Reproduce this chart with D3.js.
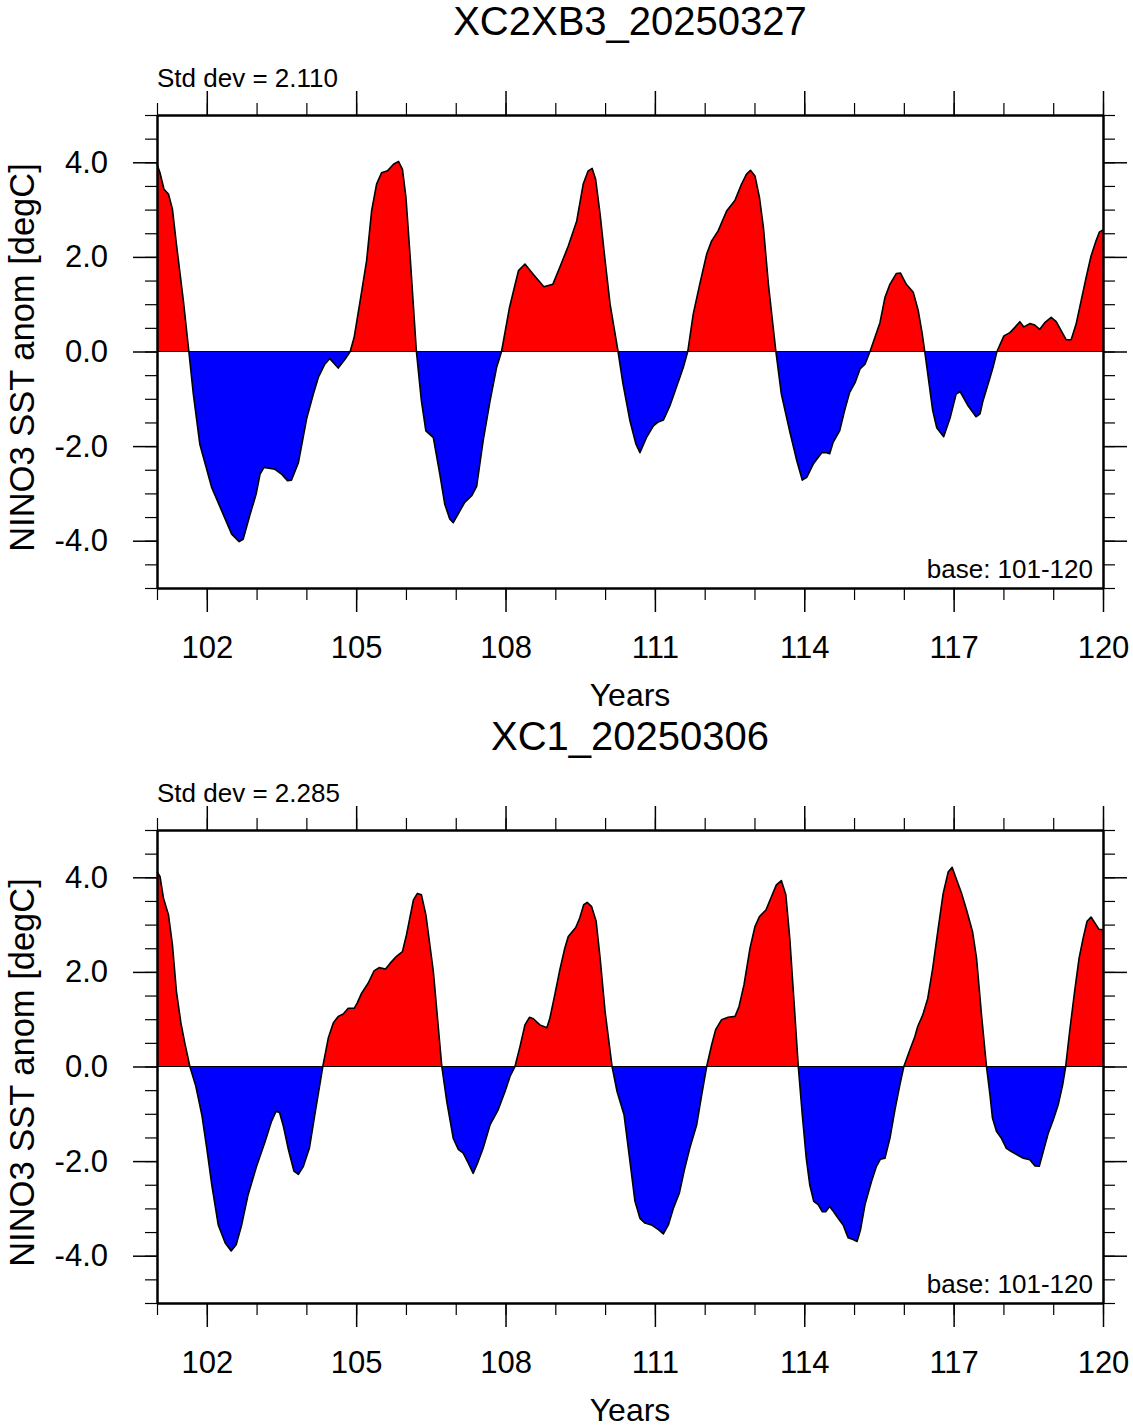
<!DOCTYPE html>
<html>
  <head>
    <meta charset="utf-8" />
    <style>
      body {
        margin: 0;
        background: #fff;
      }
      text {
        font-family: "Liberation Sans", Arial, Helvetica, sans-serif;
        fill: #000;
      }
      .axis path,
      .axis line {
        stroke: #000;
      }
      .axis path {
        stroke-width: 2px;
      }
      .axis .tick line {
        stroke-width: 1.5px;
      }
      .minor .tick line {
        stroke-width: 1.2px;
      }
    </style>
  </head>
  <body>
    <svg width="1133" height="1428"></svg>
    <script src="https://cdn.jsdelivr.net/npm/d3@7"></script>
    <script>
      // panel 1: XC2XB3_20250327
      var topYears = [
        101.0, 101.06, 101.14, 101.23, 101.31, 101.39, 101.53, 101.64, 101.73, 101.86,
        102.1, 102.3, 102.5, 102.65, 102.73, 102.87, 102.99, 103.07, 103.15, 103.37,
        103.5, 103.62, 103.7, 103.84, 104.01, 104.14, 104.24, 104.37, 104.47, 104.64,
        104.78, 104.88, 104.96, 105.08, 105.21, 105.31, 105.41, 105.51, 105.63, 105.75,
        105.85, 105.93, 106.0, 106.09, 106.21, 106.31, 106.4, 106.55, 106.68, 106.78,
        106.88, 106.95, 107.18, 107.32, 107.42, 107.55, 107.69, 107.82, 107.92, 108.08,
        108.16, 108.26, 108.39, 108.56, 108.77, 108.95, 109.09, 109.26, 109.43, 109.56,
        109.66, 109.74, 109.81, 109.9, 110.0, 110.1, 110.26, 110.36, 110.5, 110.62,
        110.7, 110.83, 110.97, 111.07, 111.17, 111.3, 111.43, 111.57, 111.66, 111.77,
        111.9, 112.04, 112.14, 112.27, 112.44, 112.61, 112.74, 112.84, 112.92, 113.01,
        113.1, 113.18, 113.28, 113.43, 113.54, 113.71, 113.85, 113.96, 114.05, 114.18,
        114.35, 114.45, 114.51, 114.58, 114.71, 114.81, 114.91, 115.02, 115.12, 115.22,
        115.32, 115.42, 115.52, 115.62, 115.72, 115.85, 115.93, 116.05, 116.19, 116.29,
        116.37, 116.42, 116.49, 116.58, 116.66, 116.8, 116.93, 117.05, 117.13, 117.29,
        117.45, 117.53, 117.59, 117.7, 117.79, 117.87, 118.01, 118.13, 118.23, 118.33,
        118.41, 118.53, 118.63, 118.73, 118.83, 118.96, 119.06, 119.16, 119.26, 119.36,
        119.46, 119.56, 119.66, 119.76, 119.86, 119.93, 120.0
      ];
      var topAnom = [
        3.96, 3.78, 3.43, 3.33, 3.01, 2.27, 1.07, 0.0, -0.9, -1.96,
        -2.88, -3.37, -3.86, -4.02, -3.97, -3.44, -3.02, -2.59, -2.45, -2.49,
        -2.59, -2.73, -2.72, -2.35, -1.4, -0.9, -0.55, -0.27, -0.15, -0.35,
        -0.16, 0.0, 0.3, 1.07, 1.92, 2.97, 3.54, 3.78, 3.82, 3.96,
        4.02, 3.85, 3.26, 1.92, 0.0, -1.04, -1.68, -1.82, -2.59, -3.23,
        -3.54, -3.62, -3.19, -3.05, -2.85, -1.89, -1.04, -0.34, 0.0, 0.93,
        1.28, 1.71, 1.85, 1.63, 1.37, 1.42, 1.78, 2.23, 2.76, 3.54,
        3.82, 3.87, 3.64, 2.9, 1.92, 1.0, 0.0, -0.69, -1.47, -1.96,
        -2.14, -1.82, -1.57, -1.49, -1.45, -1.15, -0.76, -0.34, 0.0, 0.79,
        1.42, 2.06, 2.34, 2.55, 2.97, 3.2, 3.54, 3.75, 3.83, 3.71,
        3.26, 2.62, 1.42, 0.0, -0.9, -1.7, -2.31, -2.72, -2.66, -2.38,
        -2.14, -2.14, -2.16, -1.92, -1.68, -1.25, -0.87, -0.66, -0.37, -0.27,
        0.0, 0.3, 0.61, 1.14, 1.42, 1.65, 1.66, 1.42, 1.25, 0.86,
        0.37, 0.0, -0.55, -1.25, -1.61, -1.8, -1.4, -0.9, -0.85, -1.15,
        -1.38, -1.32, -1.04, -0.66, -0.34, 0.0, 0.33, 0.4, 0.51, 0.63,
        0.52, 0.59, 0.56, 0.47, 0.61, 0.72, 0.63, 0.44, 0.25, 0.25,
        0.58, 1.07, 1.56, 2.02, 2.34, 2.53, 2.57
      ];

      // panel 2: XC1_20250306
      var botYears = [
        101.0, 101.06, 101.13, 101.23, 101.31, 101.39, 101.48, 101.56, 101.66, 101.78,
        101.9, 102.0, 102.1, 102.23, 102.37, 102.49, 102.59, 102.7, 102.83, 103.0,
        103.17, 103.3, 103.39, 103.46, 103.54, 103.64, 103.75, 103.84, 103.94, 104.06,
        104.17, 104.33, 104.44, 104.54, 104.64, 104.74, 104.84, 104.96, 105.02, 105.11,
        105.24, 105.36, 105.46, 105.59, 105.68, 105.81, 105.93, 106.01, 106.15, 106.23,
        106.31, 106.4, 106.55, 106.72, 106.82, 106.95, 107.05, 107.15, 107.25, 107.35,
        107.45, 107.55, 107.69, 107.85, 107.99, 108.09, 108.19, 108.29, 108.39, 108.48,
        108.56, 108.69, 108.83, 108.89, 108.99, 109.09, 109.19, 109.26, 109.41, 109.49,
        109.57, 109.64, 109.73, 109.82, 109.9, 110.0, 110.14, 110.24, 110.38, 110.5,
        110.6, 110.7, 110.8, 110.93, 111.07, 111.17, 111.27, 111.37, 111.49, 111.6,
        111.7, 111.84, 111.94, 112.04, 112.14, 112.22, 112.34, 112.47, 112.61, 112.69,
        112.79, 112.91, 113.01, 113.1, 113.23, 113.34, 113.44, 113.54, 113.63, 113.71,
        113.79, 113.88, 113.96, 114.04, 114.11, 114.19, 114.28, 114.36, 114.43, 114.51,
        114.59, 114.68, 114.78, 114.88, 114.98, 115.06, 115.13, 115.22, 115.35, 115.45,
        115.53, 115.62, 115.72, 115.82, 115.92, 116.0, 116.12, 116.22, 116.28, 116.38,
        116.48, 116.58, 116.69, 116.79, 116.89, 116.97, 117.06, 117.16, 117.26, 117.38,
        117.46, 117.56, 117.66, 117.73, 117.78, 117.86, 117.96, 118.06, 118.16, 118.3,
        118.4, 118.53, 118.63, 118.72, 118.8, 118.9, 119.0, 119.1, 119.19, 119.25,
        119.33, 119.43, 119.52, 119.6, 119.68, 119.76, 119.84, 119.92, 120.0
      ];
      var botAnom = [
        4.12, 4.02, 3.56, 3.21, 2.57, 1.59, 0.92, 0.49, 0.0, -0.42,
        -1.02, -1.73, -2.5, -3.35, -3.73, -3.9, -3.77, -3.35, -2.71, -2.11,
        -1.59, -1.16, -0.95, -0.97, -1.27, -1.76, -2.21, -2.28, -2.11, -1.73,
        -1.02, 0.0, 0.6, 0.92, 1.06, 1.11, 1.23, 1.23, 1.34, 1.55,
        1.76, 2.02, 2.09, 2.06, 2.18, 2.33, 2.43, 2.78, 3.52, 3.66,
        3.63, 3.21, 2.01, 0.0, -0.74, -1.52, -1.75, -1.83, -2.04, -2.26,
        -2.01, -1.73, -1.23, -0.92, -0.53, -0.21, 0.0, 0.42, 0.88, 1.04,
        1.01, 0.88, 0.82, 1.02, 1.52, 2.04, 2.5, 2.75, 2.94, 3.14,
        3.42, 3.47, 3.38, 3.07, 2.29, 1.16, 0.0, -0.53, -1.02, -2.01,
        -2.85, -3.21, -3.31, -3.35, -3.45, -3.54, -3.35, -3.0, -2.68, -2.15,
        -1.73, -1.23, -0.6, 0.0, 0.46, 0.78, 0.99, 1.04, 1.06, 1.27,
        1.73, 2.5, 2.96, 3.17, 3.31, 3.59, 3.84, 3.93, 3.63, 2.7,
        1.44, 0.0, -1.02, -1.94, -2.5, -2.85, -2.92, -3.07, -3.07, -2.96,
        -3.07, -3.21, -3.35, -3.62, -3.66, -3.7, -3.45, -2.92, -2.43, -2.11,
        -1.96, -1.94, -1.52, -0.92, -0.39, 0.0, 0.35, 0.63, 0.85, 1.09,
        1.44, 2.08, 2.92, 3.66, 4.11, 4.21, 3.95, 3.66, 3.31, 2.85,
        2.29, 1.09, 0.0, -0.6, -1.09, -1.37, -1.52, -1.73, -1.8, -1.88,
        -1.94, -1.97, -2.1, -2.11, -1.8, -1.41, -1.13, -0.81, -0.39, 0.0,
        0.74, 1.59, 2.29, 2.71, 3.07, 3.16, 3.03, 2.9, 2.89
      ];

      var titles = ["XC2XB3_20250327", "XC1_20250306"];
      var stdDevs = ["2.110", "2.285"];
      var xMajor = [102, 105, 108, 111, 114, 117, 120];
      var xMinor = d3.range(101, 121, 1);
      var yMajor = [-4, -2, 0, 2, 4];
      var yMinor = d3.range(-5, 5.01, 0.5);

      var svg = d3.select("svg");
      var left = 157,
        width = 946,
        height = 473;

      drawPanel(0, 115, topYears, topAnom);
      drawPanel(1, 830, botYears, botAnom);

      function drawPanel(i, top, years, anom) {
        var g = svg.append("g").attr("transform", "translate(" + left + "," + top + ")");

        var x = d3.scaleLinear().domain([101, 120]).range([0, width]);
        var y = d3.scaleLinear().domain([-5, 5]).range([height, 0]);

        var pts = years.map(function (t, k) {
          return { t: t, v: anom[k] };
        });

        var defs = g.append("defs");
        defs
          .append("clipPath")
          .attr("id", "pos" + i)
          .append("rect")
          .attr("x", 0)
          .attr("y", 0)
          .attr("width", width)
          .attr("height", y(0));
        defs
          .append("clipPath")
          .attr("id", "neg" + i)
          .append("rect")
          .attr("x", 0)
          .attr("y", y(0))
          .attr("width", width)
          .attr("height", height - y(0));

        var area = d3
          .area()
          .x(function (d) {
            return x(d.t);
          })
          .y0(y(0))
          .y1(function (d) {
            return y(d.v);
          });

        g.append("path")
          .datum(pts)
          .attr("d", area)
          .attr("fill", "#ff0000")
          .attr("clip-path", "url(#pos" + i + ")");
        g.append("path")
          .datum(pts)
          .attr("d", area)
          .attr("fill", "#0000ff")
          .attr("clip-path", "url(#neg" + i + ")");

        // zero reference line
        g.append("line")
          .attr("x1", 0)
          .attr("x2", width)
          .attr("y1", y(0))
          .attr("y2", y(0))
          .attr("stroke", "#000")
          .attr("stroke-width", 1.2);

        var line = d3
          .line()
          .x(function (d) {
            return x(d.t);
          })
          .y(function (d) {
            return y(d.v);
          });

        g.append("path")
          .datum(pts)
          .attr("d", line)
          .attr("fill", "none")
          .attr("stroke", "#000")
          .attr("stroke-width", 1.6)
          .attr("stroke-linejoin", "round");

        // minor ticks
        g.append("g")
          .attr("class", "axis minor")
          .attr("transform", "translate(0," + height + ")")
          .call(d3.axisBottom(x).tickValues(xMinor).tickSize(12).tickSizeOuter(0).tickFormat(""));
        g.append("g")
          .attr("class", "axis minor")
          .call(d3.axisTop(x).tickValues(xMinor).tickSize(12).tickSizeOuter(0).tickFormat(""));
        g.append("g")
          .attr("class", "axis minor")
          .call(d3.axisLeft(y).tickValues(yMinor).tickSize(12).tickSizeOuter(0).tickFormat(""));
        g.append("g")
          .attr("class", "axis minor")
          .attr("transform", "translate(" + width + ",0)")
          .call(d3.axisRight(y).tickValues(yMinor).tickSize(12).tickSizeOuter(0).tickFormat(""));

        // major ticks and labels
        g.append("g")
          .attr("class", "axis")
          .attr("transform", "translate(0," + height + ")")
          .call(
            d3.axisBottom(x).tickValues(xMajor).tickSize(24).tickSizeOuter(0).tickPadding(24).tickFormat(d3.format("d"))
          )
          .selectAll("text")
          .style("font-size", "31px");
        g.append("g")
          .attr("class", "axis")
          .call(d3.axisTop(x).tickValues(xMajor).tickSize(24).tickSizeOuter(0).tickFormat(""));
        g.append("g")
          .attr("class", "axis")
          .call(
            d3
              .axisLeft(y)
              .tickValues(yMajor)
              .tickSize(24)
              .tickSizeOuter(0)
              .tickPadding(25)
              .tickFormat(function (d) {
                return d.toFixed(1); // plain hyphen, like NCL
              })
          )
          .selectAll("text")
          .style("font-size", "31px");
        g.append("g")
          .attr("class", "axis")
          .attr("transform", "translate(" + width + ",0)")
          .call(d3.axisRight(y).tickValues(yMajor).tickSize(24).tickSizeOuter(0).tickFormat(""));

        svg.selectAll(".axis text").attr("font-family", null);

        // texts
        g.append("text")
          .attr("x", width / 2)
          .attr("y", -80)
          .attr("text-anchor", "middle")
          .style("font-size", "40px")
          .text(titles[i]);
        g.append("text")
          .attr("x", 0)
          .attr("y", -28)
          .style("font-size", "26px")
          .text("Std dev = " + stdDevs[i]);
        g.append("text")
          .attr("x", width - 10)
          .attr("y", height - 10)
          .attr("text-anchor", "end")
          .style("font-size", "26px")
          .text("base: 101-120");
        g.append("text")
          .attr("x", width / 2)
          .attr("y", height + 118)
          .attr("text-anchor", "middle")
          .style("font-size", "32px")
          .text("Years");
        g.append("text")
          .attr("transform", "translate(" + (34 - left) + "," + (height / 2 + 6) + ") rotate(-90)")
          .attr("text-anchor", "middle")
          .style("font-size", "34.5px")
          .text("NINO3 SST anom [degC]");
      }
    </script>
  </body>
</html>
